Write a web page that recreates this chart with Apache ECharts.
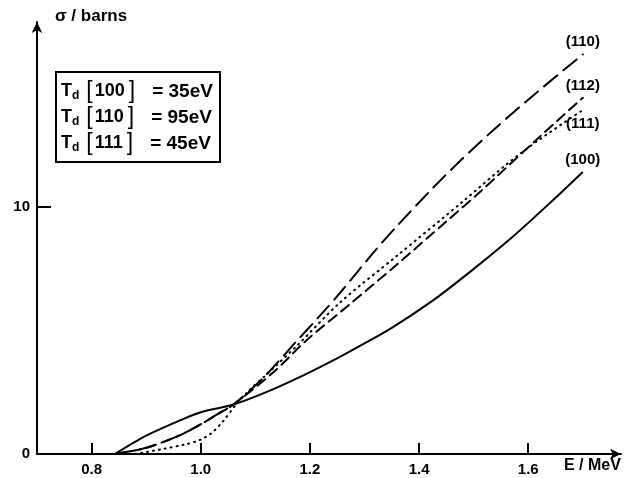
<!DOCTYPE html>
<html>
<head>
<meta charset="utf-8">
<script src="https://cdn.jsdelivr.net/npm/echarts@6/dist/echarts.min.js"></script>
<style>
  html, body { margin: 0; padding: 0; background: #fff; }
  #chart { width: 628px; height: 478px; }
</style>
</head>
<body>
<div id="chart"></div>
<script>
// E / MeV ticks and sigma ticks
const xTicks = [0.8, 1.0, 1.2, 1.4, 1.6];
const yTicks = [0, 10];

// (100) solid
const e100 = [0.843, 0.9, 0.96, 1.0, 1.06, 1.12, 1.19, 1.24, 1.29, 1.35, 1.425, 1.49, 1.57, 1.64, 1.7];
const s100 = [0, 0.74, 1.34, 1.69, 2.0, 2.5, 3.2, 3.75, 4.35, 5.1, 6.2, 7.3, 8.75, 10.15, 11.4];

// (110) long dash
const e110 = [0.843, 0.9, 0.96, 1.0, 1.03, 1.06, 1.115, 1.176, 1.218, 1.256, 1.316, 1.359, 1.42, 1.475, 1.54, 1.615, 1.7];
const s110 = [0, 0.25, 0.74, 1.2, 1.6, 2.0, 3.09, 4.57, 5.58, 6.53, 8.13, 9.2, 10.63, 11.84, 13.17, 14.6, 16.15];

// (112) short dash
const e112 = [0.843, 0.9, 0.96, 1.0, 1.03, 1.06, 1.133, 1.194, 1.273, 1.359, 1.45, 1.512, 1.615, 1.7];
const s112 = [0, 0.25, 0.74, 1.2, 1.6, 2.0, 3.3, 4.6, 6.05, 7.65, 9.4, 10.6, 12.7, 14.4];

// (111) dotted
const e111 = [0.88, 0.93, 0.97, 1.0, 1.02, 1.04, 1.065, 1.09, 1.12, 1.176, 1.255, 1.359, 1.48, 1.56, 1.62, 1.7];
const s111 = [0, 0.2, 0.38, 0.58, 0.85, 1.3, 2.0, 2.6, 3.2, 4.37, 6.12, 8.0, 10.2, 11.7, 12.7, 13.9];

const FONT = "'Liberation Sans', 'DejaVu Sans', sans-serif";

function pts(xs, ys, name, pos, dist) {
  return xs.map(function (x, i) {
    if (i < xs.length - 1) return [x, ys[i]];
    return {
      value: [x, ys[i]],
      label: {
        show: true, position: pos, distance: dist, formatter: name,
        color: '#000', fontFamily: FONT, fontWeight: 'bold', fontSize: 15
      }
    };
  });
}

function line(data, type, z) {
  return {
    type: 'line', data: data, smooth: 0.3,
    symbol: 'circle', symbolSize: 0, showSymbol: true, z: z,
    itemStyle: { color: '#000' },
    lineStyle: { color: '#000', width: 2, type: type, cap: type === 'solid' ? 'butt' : 'round' }
  };
}

const chart = echarts.init(document.getElementById('chart'), null, { renderer: 'canvas' });

const rowStyle = {
  t: { fontFamily: FONT, fontWeight: 'bold', fontSize: 18, lineHeight: 26 },
  s: { fontFamily: FONT, fontWeight: 'bold', fontSize: 12, padding: [8, 0, 0, 0], lineHeight: 26 },
  b: { fontFamily: FONT, fontSize: 23, padding: [0, 2, 0, 7], lineHeight: 26 },
  c: { fontFamily: FONT, fontSize: 23, padding: [0, 17, 0, 4], lineHeight: 26 },
  n: { fontFamily: FONT, fontWeight: 'bold', fontSize: 18, lineHeight: 26 },
  v: { fontFamily: FONT, fontWeight: 'bold', fontSize: 19, lineHeight: 26 }
};

chart.setOption({
  animation: false,
  backgroundColor: '#fff',
  grid: { left: 37, right: 7, top: 22, bottom: 24 },
  xAxis: {
    type: 'value', min: 0.7, max: 1.77,
    splitLine: { show: false },
    axisLine: { lineStyle: { color: '#000', width: 2 }, symbol: ['none', 'arrow'], symbolSize: [8, 11] },
    axisTick: { inside: true, length: 11, customValues: xTicks, lineStyle: { color: '#000', width: 2 } },
    axisLabel: {
      customValues: xTicks, margin: 8, color: '#000', fontFamily: FONT, fontWeight: 'bold', fontSize: 15,
      formatter: function (v) { return v.toFixed(1); }
    }
  },
  yAxis: {
    type: 'value', min: 0, max: 17.46,
    splitLine: { show: false },
    axisLine: { lineStyle: { color: '#000', width: 2 }, symbol: ['none', 'arrow'], symbolSize: [8, 11] },
    axisTick: { inside: true, length: 14, customValues: [10], lineStyle: { color: '#000', width: 2 } },
    axisLabel: {
      customValues: yTicks, margin: 7, color: '#000', fontFamily: FONT, fontWeight: 'bold', fontSize: 15
    }
  },
  graphic: [
    {
      type: 'text', left: 55, top: 8,
      style: { text: 'σ / barns', fill: '#000', font: 'bold 17px ' + FONT }
    },
    {
      type: 'text', left: 564, top: 458,
      style: { text: 'E / MeV', fill: '#000', font: 'bold 16px ' + FONT }
    },
    {
      type: 'rect', shape: { x: 56, y: 72, width: 164, height: 90 },
      style: { fill: 'none', stroke: '#000', lineWidth: 2 }
    },
    {
      type: 'text', left: 61, top: 80,
      style: {
        text: '{t|T}{s|d}{b|[}{n|100}{c|]}{v|= 35eV}\n{t|T}{s|d}{b|[}{n|110}{c|]}{v|= 95eV}\n{t|T}{s|d}{b|[}{n|111}{c|]}{v|= 45eV}',
        fill: '#000',
        rich: rowStyle
      }
    }
  ],
  series: [
    line(pts(e100, s100, '(100)', 'top', 5), 'solid', 3),
    line(pts(e110, s110, '(110)', 'top', 5), [17, 8], 4),
    line(pts(e112, s112, '(112)', 'top', 4), [10, 6], 5),
    line(pts(e111, s111, '(111)', 'bottom', 6), [1, 5], 6)
  ]
});
</script>
</body>
</html>
